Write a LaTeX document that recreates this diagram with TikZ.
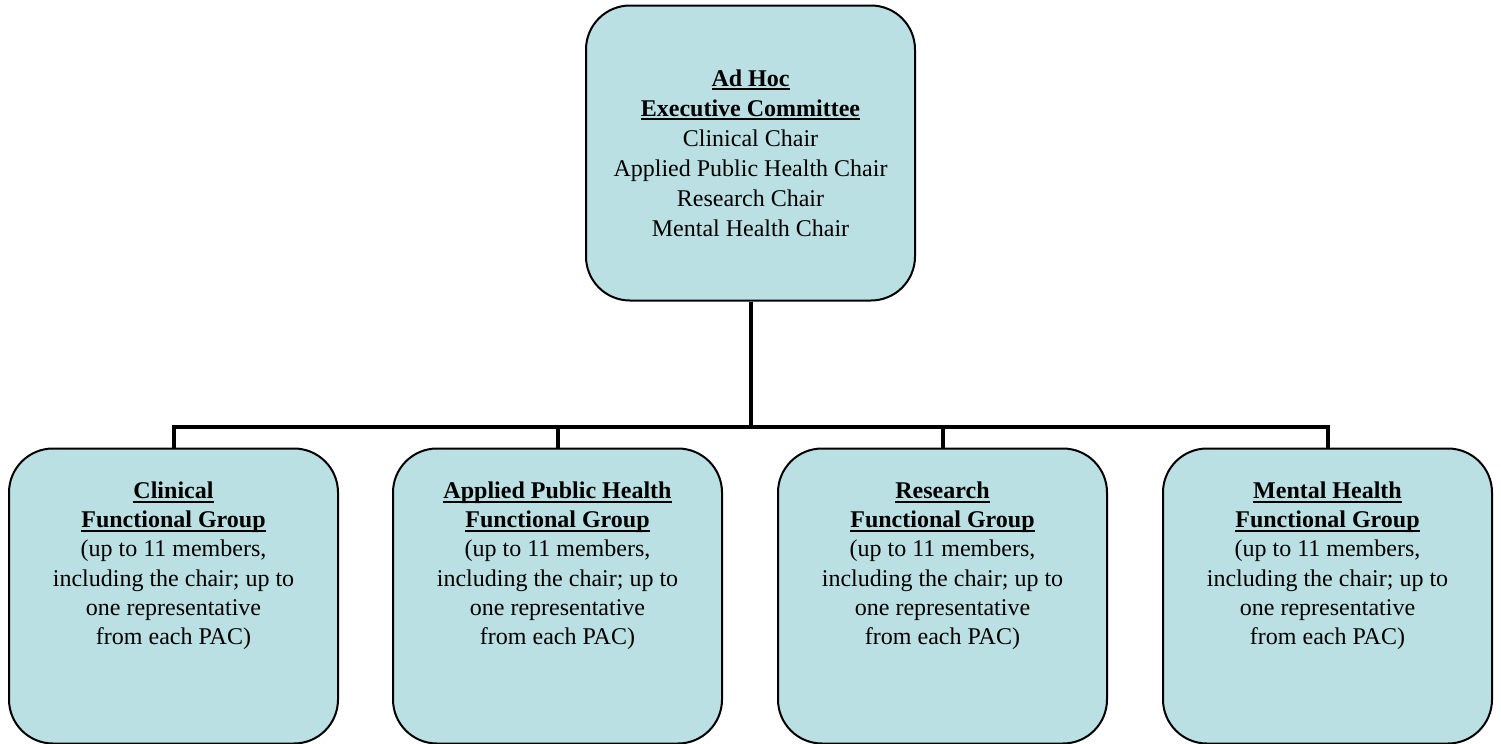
\documentclass[tikz,border=0pt]{standalone}
\usepackage{fontspec}
\setmainfont{Liberation Serif}
\usetikzlibrary{calc}
\definecolor{boxfill}{RGB}{187,224,227}
\newcommand\myul[1]{\setbox0=\hbox{\textbf{#1}}\leavevmode\rlap{\rule[-2pt]{\wd0}{1pt}}\box0}
\begin{document}
\begin{tikzpicture}[x=0.5pt,y=-0.5pt,
  box/.style={draw=black,line width=1pt,fill=boxfill,rounded corners=22pt,minimum width=164.5pt,minimum height=147.5pt,inner sep=0pt},
  txt/.style={align=center,font=\fontsize{12}{14.6}\selectfont,inner sep=0pt},
  conn/.style={line width=2pt}]
\useasboundingbox (0,0) rectangle (1501,744);
\coordinate (bus) at (750.5,427);
\node[box,txt,font=\fontsize{12}{15}\selectfont] (exec) at (750.5,153) {\myul{Ad Hoc}\\ \myul{Executive Committee}\\ Clinical Chair\\ Applied Public Health Chair\\ Research Chair\\ Mental Health Chair};
\node[box] (g1) at (173.5,596) {};
\node[box] (g2) at (557.5,596) {};
\node[box] (g3) at (942.5,596) {};
\node[box] (g4) at (1327.5,596) {};
\draw[conn] (exec.south) -- (bus);
\draw[conn] (g1.north) -- (g1.north |- bus) -- (g4.north |- bus) -- (g4.north);
\draw[conn] (g2.north) -- (g2.north |- bus);
\draw[conn] (g3.north) -- (g3.north |- bus);
\node[txt,anchor=north] (t1) at ($(g1.north)+(0,34)$) {\myul{Clinical}\\ \myul{Functional Group}\\ (up to 11 members,\\ including the chair; up to\\ one representative\\ from each PAC)};
\node[txt,anchor=north] (t2) at ($(g2.north)+(0,34)$) {\myul{Applied Public Health}\\ \myul{Functional Group}\\ (up to 11 members,\\ including the chair; up to\\ one representative\\ from each PAC)};
\node[txt,anchor=north] (t3) at ($(g3.north)+(0,34)$) {\myul{Research}\\ \myul{Functional Group}\\ (up to 11 members,\\ including the chair; up to\\ one representative\\ from each PAC)};
\node[txt,anchor=north] (t4) at ($(g4.north)+(0,34)$) {\myul{Mental Health}\\ \myul{Functional Group}\\ (up to 11 members,\\ including the chair; up to\\ one representative\\ from each PAC)};
\end{tikzpicture}
\end{document}
